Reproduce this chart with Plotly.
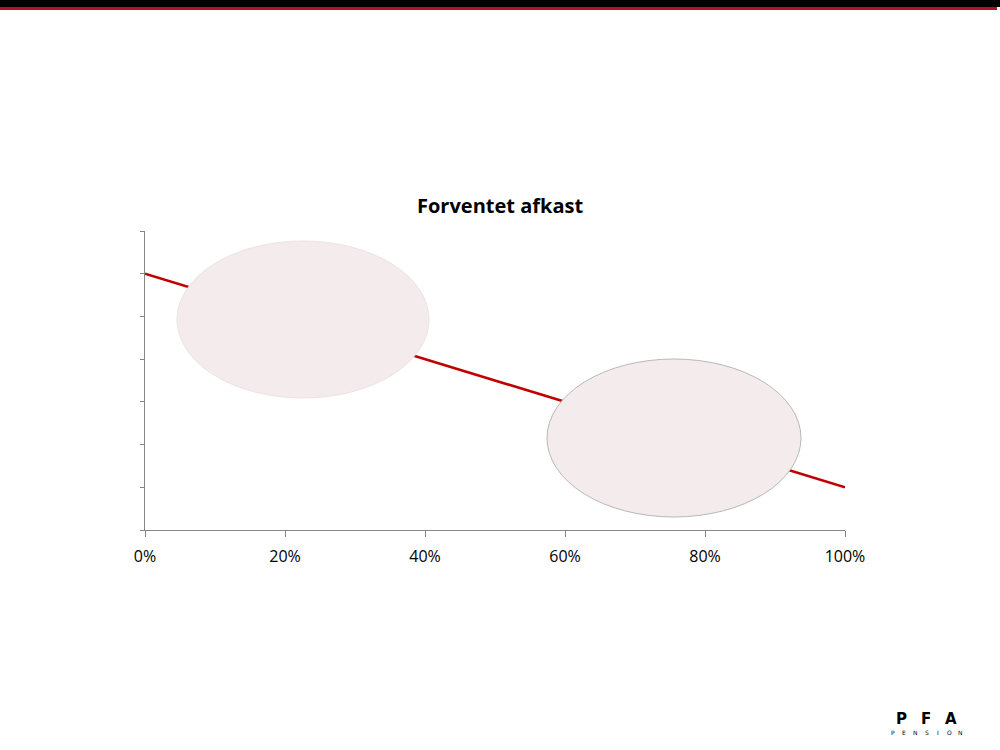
import plotly.graph_objects as go

# Data
x_share = [0.0, 1.0]
expected_return = [6.0, 1.0]
x_ticks = [0, 0.2, 0.4, 0.6, 0.8, 1.0]
x_tick_labels = ["0%", "20%", "40%", "60%", "80%", "100%"]
y_ticks = [0, 1, 2, 3, 4, 5, 6, 7]
title_text = "Forventet afkast"

W, H = 1000, 750
L, R, T, B = 145, 155, 231, 220
PW, PH = W - L - R, H - T - B

def px_x(px):
    return (px - L) / PW

def px_y(py):
    return (H - B - py) / PH

fig = go.Figure()
fig.add_trace(go.Scatter(
    x=x_share, y=expected_return, mode="lines",
    line=dict(color="#c00000", width=2.6), hoverinfo="skip", showlegend=False,
))

shapes = []
# top banner
shapes.append(dict(type="rect", xref="paper", yref="paper",
                   x0=px_x(0), x1=px_x(1000), y0=px_y(7), y1=px_y(0),
                   fillcolor="#000000", line=dict(width=0), layer="above"))
shapes.append(dict(type="rect", xref="paper", yref="paper",
                   x0=px_x(0), x1=px_x(997), y0=px_y(10), y1=px_y(7),
                   fillcolor="#b0112f", line=dict(width=0), layer="above"))
# callout ellipses
shapes.append(dict(type="circle", xref="paper", yref="paper",
                   x0=px_x(177), x1=px_x(429), y0=px_y(398), y1=px_y(241),
                   fillcolor="#f3ebec", line=dict(color="#ebe3e4", width=1), layer="above"))
shapes.append(dict(type="circle", xref="paper", yref="paper",
                   x0=px_x(547), x1=px_x(801), y0=px_y(517), y1=px_y(359),
                   fillcolor="#f3ebec", line=dict(color="#b8b8b8", width=1), layer="above"))

annotations = [dict(
    text="<b>" + title_text + "</b>", xref="paper", yref="paper",
    x=px_x(500), y=px_y(205), showarrow=False,
    font=dict(family="Open Sans", size=20, color="#000000"),
    xanchor="center", yanchor="middle",
)]
# logo
for ch, cx in zip("PFA", [901, 926, 951]):
    annotations.append(dict(text="<b>" + ch + "</b>", xref="paper", yref="paper",
                            x=px_x(cx), y=px_y(719), showarrow=False,
                            font=dict(family="DejaVu Sans", size=15, color="#000000"),
                            xanchor="center", yanchor="middle"))
for i, ch in enumerate("PENSION"):
    annotations.append(dict(text=ch, xref="paper", yref="paper",
                            x=px_x(893 + i * 11.3), y=px_y(732), showarrow=False,
                            font=dict(family="DejaVu Sans", size=6, color="#000000"),
                            xanchor="center", yanchor="middle"))

fig.update_layout(
    width=W, height=H,
    margin=dict(l=L, r=R, t=T, b=B, autoexpand=False),
    paper_bgcolor="white", plot_bgcolor="white",
    shapes=shapes, annotations=annotations,
    xaxis=dict(range=[0, 1], tickvals=x_ticks, ticktext=x_tick_labels,
               showgrid=False, zeroline=False, showline=True, linecolor="#868686", linewidth=1,
               ticks="outside", ticklen=6, tickcolor="#868686", ticklabelstandoff=6,
               tickfont=dict(family="Open Sans", size=16, color="#000000")),
    yaxis=dict(range=[0, 7], tickvals=y_ticks, showticklabels=False,
               showgrid=False, zeroline=False, showline=True, linecolor="#868686", linewidth=1,
               ticks="outside", ticklen=4, tickcolor="#868686"),
)

fig.write_html("out.html", config={"displayModeBar": False},
               post_script="document.body.style.margin='0';document.body.style.overflow='hidden';")
